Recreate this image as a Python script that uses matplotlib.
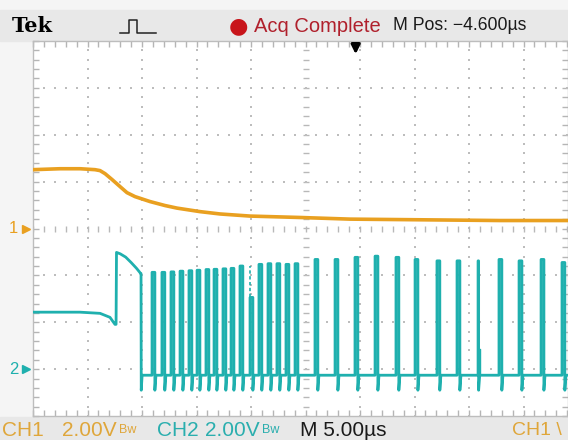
import matplotlib.pyplot as plt
import matplotlib.transforms as mtransforms
from matplotlib.patches import Rectangle
from matplotlib.lines import Line2D
import numpy as np

# time in us, voltage in V (2 V/div, 5 us/div)
ch1_t = [0, 2.48, 4.31, 5.69, 6.15, 6.61, 7.25, 7.98, 8.62, 9.36, 10.73, 12.11,
         13.21, 15.32, 17.16, 19.91, 24.50, 29.08, 33.67, 38.26, 42.84, 49.2]
ch1_v = [2.51, 2.55, 2.55, 2.51, 2.47, 2.34, 2.09, 1.79, 1.53, 1.36, 1.15, 0.98,
         0.87, 0.72, 0.62, 0.53, 0.47, 0.40, 0.38, 0.36, 0.34, 0.34]

ch2_head_t = [0, 4.3, 6.15, 7.06, 7.52, 7.62, 7.66, 8.0, 8.5, 9.0, 9.5, 9.88]
ch2_head_v = [2.43, 2.43, 2.38, 2.21, 1.91, 1.91, 4.98, 4.92, 4.78, 4.55, 4.3, 4.08]
ch2_fall_t = 9.91

pulse_t = [10.92, 11.83, 12.66, 13.49, 14.31, 15.05, 15.87, 16.61, 17.43, 18.17,
           18.99, 19.91, 20.73, 21.56, 22.38, 23.21, 24.04, 25.87, 27.71, 29.54,
           31.38, 33.30, 35.05, 37.06, 38.90, 40.83, 42.75, 44.59, 46.61, 48.53]
pulse_v = [4.13, 4.13, 4.15, 4.18, 4.2, 4.22, 4.25, 4.26, 4.28, 4.3,
           4.4, 3.06, 4.47, 4.5, 4.5, 4.47, 4.5, 4.68, 4.68, 4.77,
           4.82, 4.77, 4.68, 4.62, 4.62, 4.62, 4.68, 4.62, 4.68, 4.55]
pulse_w = [0.26] * 25 + [0.05] + [0.26] * 4
ch2_low = -0.26
ch2_spike = -0.9

ch1_pos = 0.0
ch2_pos = -3.0
volts_per_div = 2.0
trig_t = 29.6

c1 = '#E9A020'
c2 = '#1FB0AE'
c1_txt = '#DFA63A'
c2_txt = '#2AAEAE'
ff = ['Liberation Sans Narrow', 'Liberation Sans']

fig = plt.figure(figsize=(5.68, 4.40), dpi=100)
fig.patch.set_facecolor('#F5F5F5')
fig.add_artist(Rectangle((0, 1 - 41 / 440), 1, 31 / 440, transform=fig.transFigure,
                         color='#E8E8E8', zorder=0))
fig.add_artist(Rectangle((0, 0), 1, 23 / 440, transform=fig.transFigure,
                         color='#E8E8E8', zorder=0))

ax = fig.add_axes([33 / 568, 24 / 440, 535 / 568, 375 / 440])
ax.set_facecolor('white')
ax.set_xlim(0, 49.08)
ax.set_ylim(-4, 4)

# graticule
for s in ax.spines.values():
    s.set_color('#BDBDBD')
    s.set_linewidth(1)
ax.set_xticks(np.arange(0, 50, 5))
ax.set_xticks(np.arange(0, 50, 1), minor=True)
ax.set_yticks(np.arange(-4, 4.01, 1))
ax.set_yticks(np.arange(-4, 4.01, 0.2), minor=True)
ax.tick_params(which='both', direction='in', top=True, right=True, color='#B5B5B5',
               length=4, width=1, labelbottom=False, labelleft=False)

dot_y = np.arange(-4, 4.01, 0.2)
dot_x = np.arange(0, 49.1, 1.0)
for gx in np.arange(5, 49, 5):
    if gx == 25:
        ax.plot([gx] * len(dot_y), dot_y, ls='none', marker='_', ms=5, color='#B8B8B8', mew=1)
    else:
        ax.plot([gx] * len(dot_y), dot_y, ls='none', marker='s', ms=1.5, color='#BDBDBD', mew=0)
for gy in range(-3, 4):
    if gy == 0:
        ax.plot(dot_x, [gy] * len(dot_x), ls='none', marker='|', ms=5, color='#B8B8B8', mew=1)
    else:
        ax.plot(dot_x, [gy] * len(dot_x), ls='none', marker='s', ms=1.5, color='#BDBDBD', mew=0)

# CH1 trace
ax.plot(ch1_t, np.array(ch1_v) / volts_per_div + ch1_pos, color=c1, lw=2.6,
        solid_joinstyle='round', zorder=3)

# CH2 trace built from pulse list
tt = list(ch2_head_t)
vv = list(ch2_head_v)
tt += [ch2_fall_t, ch2_fall_t + 0.02, ch2_fall_t + 0.1]
vv += [ch2_head_v[-1], ch2_spike, ch2_low]
for t, v, w in zip(pulse_t, pulse_v, pulse_w):
    tt += [t, t, t + w, t + w, t + w + 0.1]
    vv += [ch2_low, v, v, ch2_spike, ch2_low]
tt.append(49.2)
vv.append(ch2_low)
ax.plot(tt, np.array(vv) / volts_per_div + ch2_pos, color=c2, lw=2.0, zorder=4)
# ghost edges of the partial pulses
ax.plot([19.95, 19.95], [3.06 / 2 + ch2_pos, 4.4 / 2 + ch2_pos], color=c2, lw=1.2, ls=(0, (2, 1.5)), zorder=4)
ax.plot([40.92, 40.92, 41.05, 41.05], [ch2_low / 2 + ch2_pos, 0.85 / 2 + ch2_pos, 0.85 / 2 + ch2_pos,
                                       ch2_low / 2 + ch2_pos], color=c2, lw=1.0, zorder=4)

# trigger position arrow
ax.annotate('', xy=(trig_t, 3.66), xytext=(trig_t, 3.97),
            arrowprops=dict(arrowstyle='-|>', color='black', lw=2.2, mutation_scale=13),
            annotation_clip=False, zorder=6)

# channel ground markers
blend = mtransforms.blended_transform_factory(ax.transAxes, ax.transData)
for pos, lab, col in [(ch1_pos, '1', c1), (ch2_pos, '2', c2)]:
    ax.text(-0.036, pos, lab, transform=blend, color=col, fontsize=12, family=ff,
            ha='center', va='center', clip_on=False)
    ax.plot([-0.014], [pos], marker='>', ms=6, color=col, transform=blend, clip_on=False)

# header
ytop = 1 - 26 / 440
fig.text(12 / 568, ytop, 'Tek', family='DejaVu Serif', weight='bold', fontsize=15,
         ha='left', va='center')
icon_x = np.array([120, 129, 129, 137, 137, 156]) / 568
icon_y = 1 - np.array([33, 33, 20, 20, 33, 33]) / 440
fig.add_artist(Line2D(icon_x, icon_y, transform=fig.transFigure, color='#222222', lw=1.1))
fig.text(238 / 568, ytop, '\u25CF', color='#C8151B', fontsize=16, ha='center', va='center')
fig.text(254 / 568, ytop, 'Acq Complete', color='#B0202C', fontsize=14.5,
         family=ff, ha='left', va='center')
fig.text(393 / 568, ytop, 'M Pos: \u22124.600\u00b5s', color='#1A1A1A', fontsize=12.7,
         family=ff, ha='left', va='center')

# footer
ybot = 1 - 430 / 440
fig.text(2 / 568, ybot, 'CH1', color=c1_txt, fontsize=15, family=ff, ha='left', va='center')
fig.text(62 / 568, ybot, '2.00V', color=c1_txt, fontsize=15, family=ff, ha='left', va='center')
fig.text(119 / 568, ybot, 'Bw', color=c1_txt, fontsize=9, family=ff, ha='left', va='center')
fig.text(157 / 568, ybot, 'CH2', color=c2_txt, fontsize=15, family=ff, ha='left', va='center')
fig.text(205 / 568, ybot, '2.00V', color=c2_txt, fontsize=15, family=ff, ha='left', va='center')
fig.text(262 / 568, ybot, 'Bw', color=c2_txt, fontsize=9, family=ff, ha='left', va='center')
fig.text(300 / 568, ybot, 'M 5.00\u00b5s', color='#1A1A1A', fontsize=15, family=ff, ha='left', va='center')
fig.text(512 / 568, ybot, 'CH1 \\', color=c1_txt, fontsize=14, family=ff, ha='left', va='center')

fig.savefig('out.png', dpi=100)
